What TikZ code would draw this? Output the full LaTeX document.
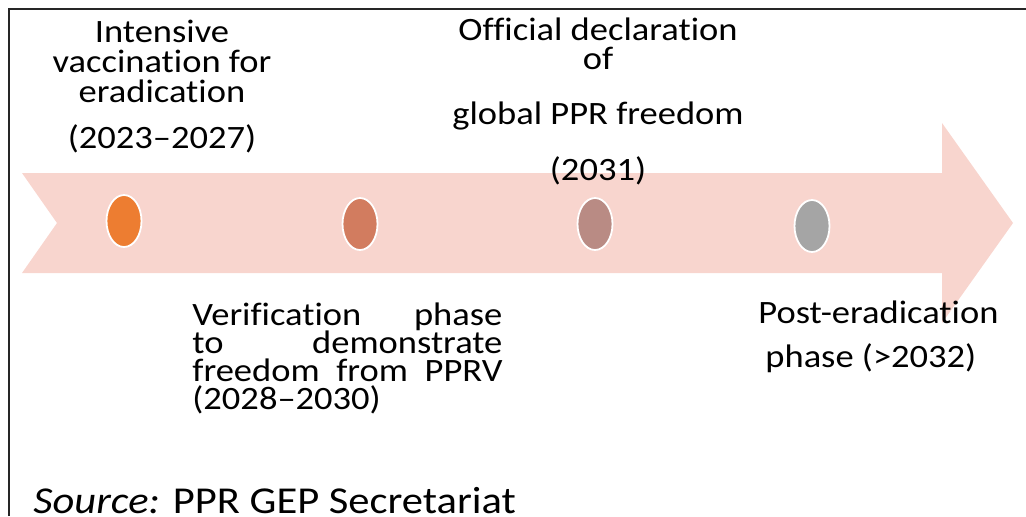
\documentclass[tikz,border=0pt]{standalone}
\usepackage{fontspec}
\setmainfont{Carlito}[FakeStretch=1.12, Ligatures={TeX,NoCommon}]
\usepackage{tikz}
\usetikzlibrary{shapes.geometric}
\definecolor{bandpink}{HTML}{F8D5CE}
\definecolor{dotorange}{HTML}{ED7D31}
\definecolor{dotrust}{HTML}{D27C5F}
\definecolor{dotmauve}{HTML}{B98B84}
\definecolor{dotgrey}{HTML}{A5A5A5}

\begin{document}
\begin{tikzpicture}[
  x=0.5pt, y=-0.5pt,
  dot/.style={ellipse, draw=white, line width=0.9pt, minimum width=17.5pt, minimum height=26pt, inner sep=0pt},
  lbl/.style={font=\fontsize{16.3pt}{14.5pt}\selectfont, align=center, inner sep=0pt, anchor=base}
]
\useasboundingbox (0,0) rectangle (1026,516);
% frame (only top and left edges visible)
\draw[black!85, line width=1pt] (8.5,516) -- (8.5,8.5) -- (1026,8.5);
% timeline band with notched tail
\fill[bandpink] (22,173) -- (942,173) -- (942,123) -- (1013,223) -- (942,323)
  -- (942,273) -- (22,273) -- (57,223) -- cycle;
% milestones
\node[dot, fill=dotorange] (m1) at (124,221) {};
\node[dot, fill=dotrust] (m2) at (360,224) {};
\node[dot, fill=dotmauve] (m3) at (595,224) {};
\node[dot, fill=dotgrey] (m4) at (812,226) {};
% phase labels (base = last line)
\node[lbl, font=\fontsize{16.3pt}{15pt}\selectfont] (vacc) at (162,148)
  {Intensive\\ vaccination for\\ eradication\\[8pt] (2023--2027)};
\node[lbl] (decl) at (598,180)
  {Official declaration\\ of\\[13pt] global PPR freedom\\[12pt] (2031)};
\node[lbl, font=\fontsize{16.3pt}{14pt}\selectfont, align=left, text width=155pt, anchor=base west] (verif) at (192,325)
  {Verification\hfill phase\\ to\hfill demonstrate\\ freedom\hfill from\hfill PPRV\\ (2028--2030)};
\node[lbl, align=left, anchor=base west] (post) at (758,367)
  {Post-eradication\\[7.5pt]\hspace*{3.5pt}phase (>2032)};
% source note
\node[font=\fontsize{19pt}{22pt}\selectfont, inner sep=0pt, anchor=base west] (src) at (33,513)
  {\textit{Source:} PPR GEP Secretariat};
\end{tikzpicture}
\end{document}
